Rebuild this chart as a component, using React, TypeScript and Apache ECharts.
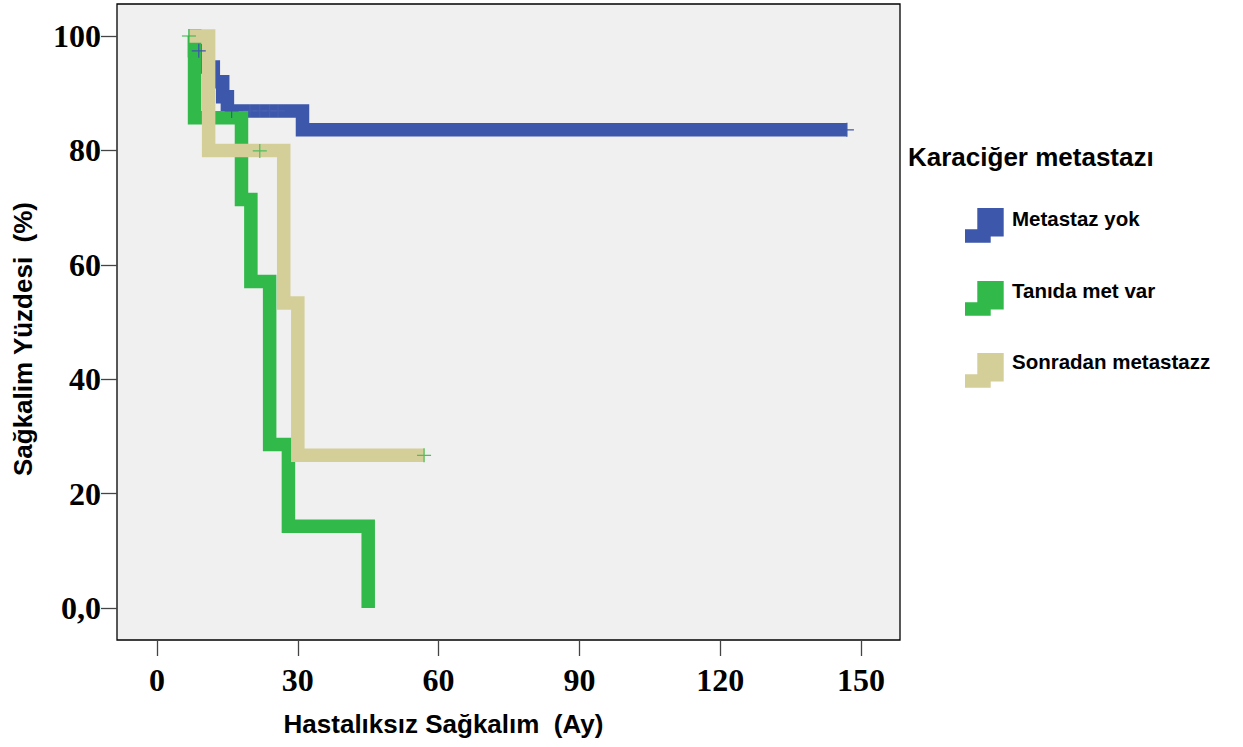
import React, { useEffect, useRef } from "react";
import * as echarts from "echarts";

// ---- data ----
const xTickValues = [0, 30, 60, 90, 120, 150];
const yTickValues = [0, 20, 40, 60, 80, 100];
const groupNames = ["Metastaz yok", "Tanıda met var", "Sonradan metastazz"];
const groupColors = ["#3d57ab", "#31b94a", "#d4ce98"];

const blueTimes = [7, 8, 10, 12, 14, 15, 31, 147];
const blueSurv = [100, 97.4, 94.6, 92.0, 89.4, 86.9, 83.6, 83.6];
const greenTimes = [6.8, 8, 18, 20, 24, 28, 45];
const greenSurv = [100, 85.7, 71.4, 57.1, 28.6, 14.3, 0];
const tanTimes = [6.8, 11, 27, 30, 57];
const tanSurv = [100, 80, 53.3, 26.7, 26.7];

const blueCensorTimes = [8.9, 15.9, 147];
const blueCensorSurv = [97.4, 86.9, 83.6];
const blueFaintCensorTimes = [19.8, 21.9, 24, 25.8];
const blueFaintCensorSurv = [86.9, 86.9, 86.9, 86.9];
const greenCensorTimes = [6.8];
const greenCensorSurv = [100];
const tanCensorTimes = [21.9, 56.9];
const tanCensorSurv = [79.9, 26.7];

const zip = (a: number[], b: number[]) => a.map((v, i) => [v, b[i]]);

const CROSS = "path://M0,6.4H14V7.6H0Z M6.4,0H7.6V14H6.4Z";

export default function App() {
  const ref = useRef<HTMLDivElement>(null);
  useEffect(() => {
    if (!ref.current) return;
    const chart = echarts.init(ref.current, undefined, { renderer: "svg" });

    const lineSeries = (name: string, color: string, t: number[], s: number[]) => ({
      type: "line",
      name,
      data: zip(t, s),
      step: "end",
      symbol: "none",
      lineStyle: { color, width: 13.5, cap: "butt", join: "miter" },
      silent: true,
      z: 2,
    });
    const censorSeries = (color: string, t: number[], s: number[], opacity = 1) => ({
      type: "scatter",
      data: zip(t, s),
      symbol: CROSS,
      symbolSize: 14,
      itemStyle: { color, opacity },
      silent: true,
      z: 5,
    });

    const legendItems: any[] = [];
    const itemTops = [208, 281, 353];
    const textYs = [218, 290, 361];
    groupNames.forEach((g, i) => {
      const T = itemTops[i];
      legendItems.push({
        type: "polyline",
        shape: {
          points: [
            [965, T + 28],
            [984, T + 28],
            [984, T + 6.7],
            [997, T + 6.7],
            [997, T + 28.4],
          ],
        },
        style: { stroke: groupColors[i], lineWidth: 13.4, fill: null, lineJoin: "miter", lineCap: "butt" },
      });
      legendItems.push({
        type: "text",
        x: 1012,
        y: textYs[i],
        style: {
          text: g,
          font: "bold 20.5px 'Liberation Sans', Arial, sans-serif",
          fill: "#000",
          verticalAlign: "middle",
          align: "left",
        },
      });
    });

    chart.setOption({
      animation: false,
      backgroundColor: "#ffffff",
      grid: {
        left: 117,
        top: 4,
        width: 783,
        height: 636,
        show: true,
        backgroundColor: "#f0f0f0",
        borderColor: "#000",
        borderWidth: 1.3,
      },
      xAxis: {
        type: "value",
        min: -8.523,
        max: 158.31,
        name: "Hastalıksız Sağkalım  (Ay)",
        nameLocation: "middle",
        nameGap: 71,
        nameTextStyle: {
          fontFamily: "'Liberation Sans', Arial, sans-serif",
          fontWeight: "bold",
          fontSize: 26,
          color: "#000",
          padding: [0, 130, 0, 0],
        },
        axisLine: { show: false, onZero: false },
        splitLine: { show: false },
        axisTick: {
          show: true,
          length: 16,
          customValues: xTickValues,
          lineStyle: { color: "#444", width: 1.3 },
        },
        axisLabel: {
          customValues: xTickValues,
          margin: 24,
          fontFamily: "'Liberation Serif', 'Times New Roman', serif",
          fontWeight: "bold",
          fontSize: 32,
          color: "#000",
        },
      },
      yAxis: {
        type: "value",
        min: -5.594,
        max: 105.594,
        name: "Sağkalim Yüzdesi  (%)",
        nameLocation: "middle",
        nameRotate: 90,
        nameGap: 81,
        nameTextStyle: {
          fontFamily: "'Liberation Sans', Arial, sans-serif",
          fontWeight: "bold",
          fontSize: 26,
          color: "#000",
          padding: [0, 34, 0, 0],
        },
        axisLine: { show: false, onZero: false },
        splitLine: { show: false },
        axisTick: {
          show: true,
          length: 16,
          customValues: yTickValues,
          lineStyle: { color: "#444", width: 1.3 },
        },
        axisLabel: {
          customValues: yTickValues,
          margin: 16,
          fontFamily: "'Liberation Serif', 'Times New Roman', serif",
          fontWeight: "bold",
          fontSize: 32,
          color: "#000",
          formatter: (v: number) => (v === 0 ? "0,0" : String(v)),
        },
      },
      series: [
        lineSeries(groupNames[0], groupColors[0], blueTimes, blueSurv),
        lineSeries(groupNames[1], groupColors[1], greenTimes, greenSurv),
        lineSeries(groupNames[2], groupColors[2], tanTimes, tanSurv),
        censorSeries("#3d57ab", blueCensorTimes, blueCensorSurv),
        censorSeries("#8a98cf", blueFaintCensorTimes, blueFaintCensorSurv, 0.12),
        censorSeries("#2fb447", greenCensorTimes, greenCensorSurv),
        censorSeries("#4cbf5c", tanCensorTimes, tanCensorSurv),
      ],
      graphic: [
        {
          type: "text",
          x: 908,
          y: 157,
          style: {
            text: "Karaciğer metastazı",
            font: "bold 26px 'Liberation Sans', Arial, sans-serif",
            fill: "#000",
            verticalAlign: "middle",
            align: "left",
          },
        },
        ...legendItems,
      ],
    });
    return () => chart.dispose();
  }, []);
  return (
    <div
      ref={ref}
      style={{ position: "absolute", left: 0, top: 0, width: 1243, height: 747 }}
    />
  );
}
